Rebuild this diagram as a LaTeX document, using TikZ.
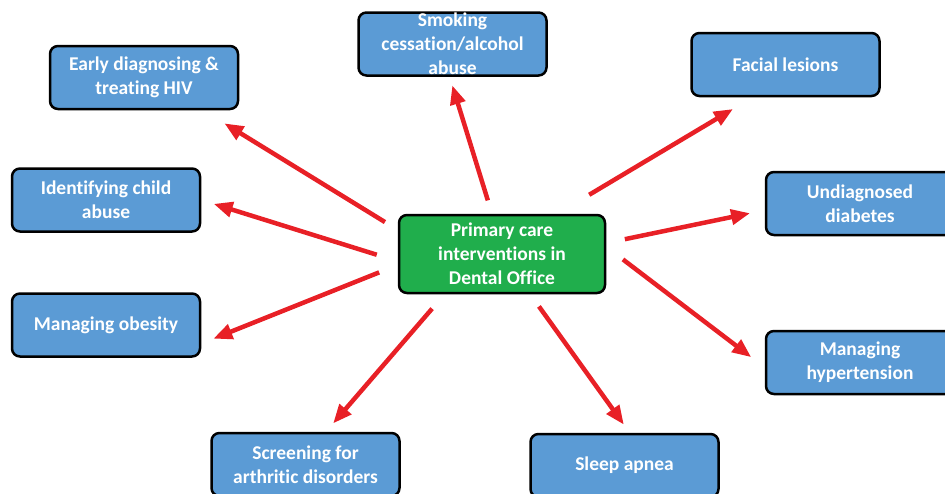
\documentclass[tikz,border=0pt]{standalone}
\usepackage{fontspec}
\setmainfont{Carlito}[Ligatures=NoCommon]
\usepackage{xcolor}
\usepackage{tikz}
\usetikzlibrary{arrows.meta, positioning}
\definecolor{boxblue}{RGB}{91,155,213}
\definecolor{hubgreen}{RGB}{32,174,76}
\definecolor{linkred}{RGB}{232,32,38}
\tikzset{
  topic/.style={rectangle, rounded corners=8pt, draw=black, line width=2.5pt, fill=boxblue, text=white, minimum width=188pt, minimum height=63pt, align=center, font=\fontsize{19.5}{24}\selectfont\bfseries},
  hub/.style={topic, fill=hubgreen, minimum width=206pt, minimum height=78pt},
  link/.style={-{Triangle[length=19pt, width=15pt]}, draw=linkred, line width=4.5pt},
}
\begin{document}
\begin{tikzpicture}[x=1pt, y=-1pt]
\useasboundingbox (0,0) rectangle (945,493);
\node[hub] (hub) at (502,254) {Primary care\\interventions in\\Dental Office};
\node[topic] (hiv) at (144,77.5) {Early diagnosing \&\\treating HIV};
\node[topic, inner ysep=-4pt] (smoke) at (452.5,44) {Smoking\\cessation/alcohol\\abuse};
\node[topic] (facial) at (785.5,64.5) {Facial lesions};
\node[topic] (child) at (106,200) {Identifying child\\abuse};
\node[topic] (diabetes) at (860,203.5) {Undiagnosed\\diabetes};
\node[topic] (obesity) at (106,325) {Managing obesity};
\node[topic] (hypert) at (860,362.5) {Managing\\hypertension};
\node[topic] (arthritic) at (305.5,464.5) {Screening for\\arthritic disorders};
\node[topic] (sleep) at (624.5,465.5) {Sleep apnea};
\draw[link, shorten <=15pt, shorten >=25pt] (hub.167) -- (hiv.-29);
\draw[link, shorten <=14pt, shorten >=9pt] (hub.104) -- (smoke.265);
\draw[link, shorten <=37pt, shorten >=23pt] (hub.36) -- (facial.225);
\draw[link, shorten <=22pt, shorten >=13pt] (hub.184) -- (child.0);
\draw[link, shorten <=19pt, shorten >=15pt] (hub.6) -- (diabetes.184);
\draw[link, shorten <=20pt, shorten >=13pt] (hub.186) -- (obesity.349);
\draw[link, shorten <=21pt, shorten >=17pt] (hub.4) -- (hypert.183);
\draw[link, shorten <=19pt, shorten >=11pt] (hub.215) -- (arthritic.58);
\draw[link, shorten <=15pt, shorten >=10pt] (hub.305) -- (sleep.81);
\end{tikzpicture}
\end{document}
